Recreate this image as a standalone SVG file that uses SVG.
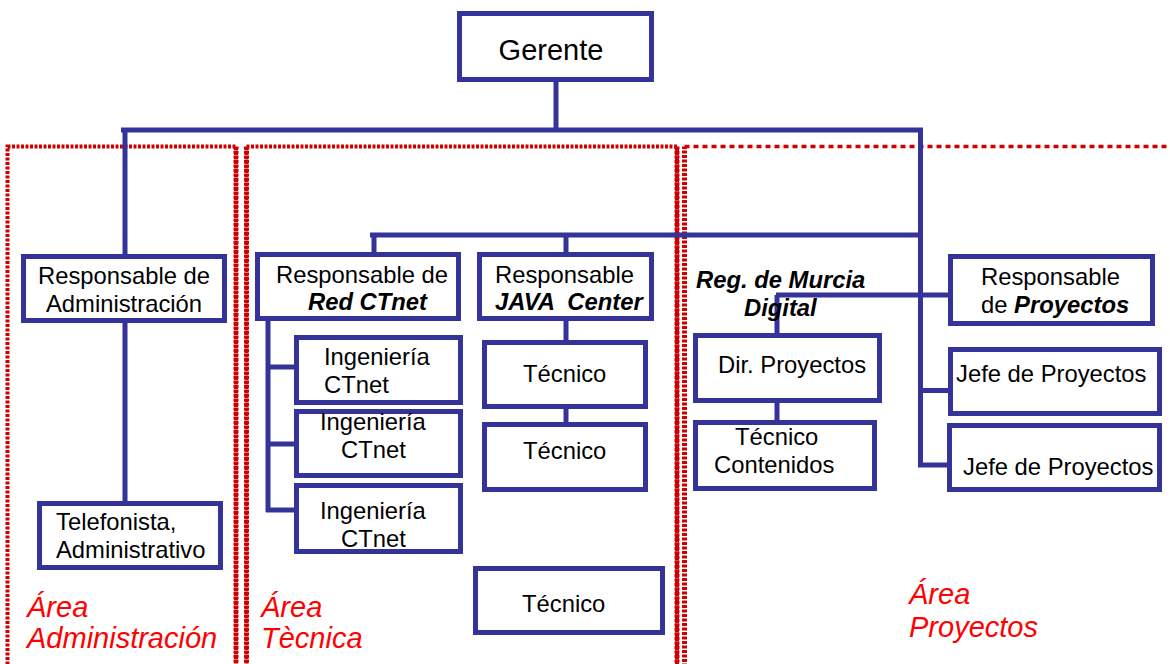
<svg xmlns="http://www.w3.org/2000/svg" width="1170" height="664" viewBox="0 0 1170 664">
<style>
.box{fill:#fff;stroke:#333399;stroke-width:5}
.ln{stroke:#333399;stroke-width:5;fill:none}
.area{fill:none;stroke:#d00000;stroke-width:4;stroke-dasharray:3 1.5}
.areaV{fill:none;stroke:#d00000;stroke-width:5;stroke-dasharray:3 1.5}
.areaT{fill:none;stroke:#d00000;stroke-width:3.5;stroke-dasharray:5 4}
text{font-family:"Liberation Sans",Arial,sans-serif;font-size:23.8px;fill:#000}
.bi{font-weight:bold;font-style:italic}
.ar{font-size:29px;font-style:italic;fill:#ff0000}
</style>
<rect width="1170" height="664" fill="#fff"/>
<g id="areas">
<rect class="area" x="7.5" y="146.5" width="228.5" height="530"/>
<path class="areaV" d="M236 146.5 V680"/>
<rect class="area" x="246.5" y="146.5" width="430.5" height="530"/>
<path class="areaV" d="M246.5 146.5 V680 M677 146.5 V680"/>
<path class="areaV" d="M684.5 680 V146.5"/>
<path class="areaT" d="M684.5 146.5 H1172"/>
</g>
<g id="connectors">
<path class="ln" d="M556 82 V130"/>
<path class="ln" d="M121 130 H923"/>
<path class="ln" d="M125 130 V256"/>
<path class="ln" d="M920.5 130 V467"/>
<path class="ln" d="M370 235 H920"/>
<path class="ln" d="M374 235 V256"/>
<path class="ln" d="M566 235 V256"/>
<path class="ln" d="M566 321 V342"/>
<path class="ln" d="M566 405 V424"/>
<path class="ln" d="M268 321 V512"/>
<path class="ln" d="M266 367 H297"/>
<path class="ln" d="M266 444 H297"/>
<path class="ln" d="M266 510 H297"/>
<path class="ln" d="M125 323 V503"/>
<path class="ln" d="M776 295 H951"/>
<path class="ln" d="M777 295 V336"/>
<path class="ln" d="M777 403 V423"/>
<path class="ln" d="M918 390.5 H951"/>
<path class="ln" d="M918 465 H950"/>
</g>
<g id="gerente"><rect class="box" x="459.5" y="13.5" width="192" height="66"/><text x="551" y="60" text-anchor="middle" style="font-size:29px">Gerente</text></g>
<g id="resp-admin"><rect class="box" x="23.5" y="256.5" width="201" height="64"/><text x="124" y="284" text-anchor="middle">Responsable de</text><text x="124" y="312" text-anchor="middle">Administración</text></g>
<g id="telefonista"><rect class="box" x="39.5" y="503.5" width="181" height="64"/><text x="56" y="530">Telefonista,</text><text x="56" y="558">Administrativo</text></g>
<g id="resp-red"><rect class="box" x="257.5" y="254.5" width="201" height="64"/><text x="276" y="283">Responsable de</text><text x="308" y="310" class="bi">Red CTnet</text></g>
<g id="resp-java"><rect class="box" x="479.5" y="254.5" width="172" height="64"/><text x="495" y="283">Responsable</text><text x="495" y="310" class="bi" xml:space="preserve">JAVA  Center</text></g>
<g id="ing1"><rect class="box" x="296.5" y="337.5" width="164" height="65"/><text x="324" y="365">Ingeniería</text><text x="324" y="393">CTnet</text></g>
<g id="ing2"><rect class="box" x="296.5" y="411.5" width="164" height="64"/><text x="320" y="430">Ingeniería</text><text x="341" y="458">CTnet</text></g>
<g id="ing3"><rect class="box" x="296.5" y="485.5" width="164" height="66"/><text x="320" y="519">Ingeniería</text><text x="341" y="547">CTnet</text></g>
<g id="tec1"><rect class="box" x="484.5" y="342.5" width="161" height="64"/><text x="523" y="382">Técnico</text></g>
<g id="tec2"><rect class="box" x="484.5" y="424.5" width="161" height="65"/><text x="523" y="459">Técnico</text></g>
<g id="tec3"><rect class="box" x="475.5" y="568.5" width="187" height="64"/><text x="522" y="612">Técnico</text></g>
<g id="murcia"><text x="696" y="288" class="bi">Reg. de Murcia</text><text x="744" y="316" class="bi">Digital</text></g>
<g id="dir-proy"><rect class="box" x="695.5" y="335.5" width="184" height="65"/><text x="718" y="373">Dir. Proyectos</text></g>
<g id="tec-cont"><rect class="box" x="695.5" y="422.5" width="179" height="66"/><text x="735" y="445">Técnico</text><text x="714" y="473">Contenidos</text></g>
<g id="resp-proy"><rect class="box" x="950.5" y="256.5" width="202" height="67"/><text x="981" y="285">Responsable</text><text x="981" y="313">de <tspan class="bi">Proyectos</tspan></text></g>
<g id="jefe1"><rect class="box" x="950.5" y="349.5" width="209" height="64"/><text x="956" y="382">Jefe de Proyectos</text></g>
<g id="jefe2"><rect class="box" x="949.5" y="425.5" width="210" height="64"/><text x="963" y="475">Jefe de Proyectos</text></g>
<g id="labels">
<text class="ar" x="27" y="617">Área</text><text class="ar" x="27" y="648">Administración</text>
<text class="ar" x="261" y="617">Área</text><text class="ar" x="261" y="648">Tècnica</text>
<text class="ar" x="909" y="604">Área</text><text class="ar" x="909" y="637">Proyectos</text>
</g>
</svg>
